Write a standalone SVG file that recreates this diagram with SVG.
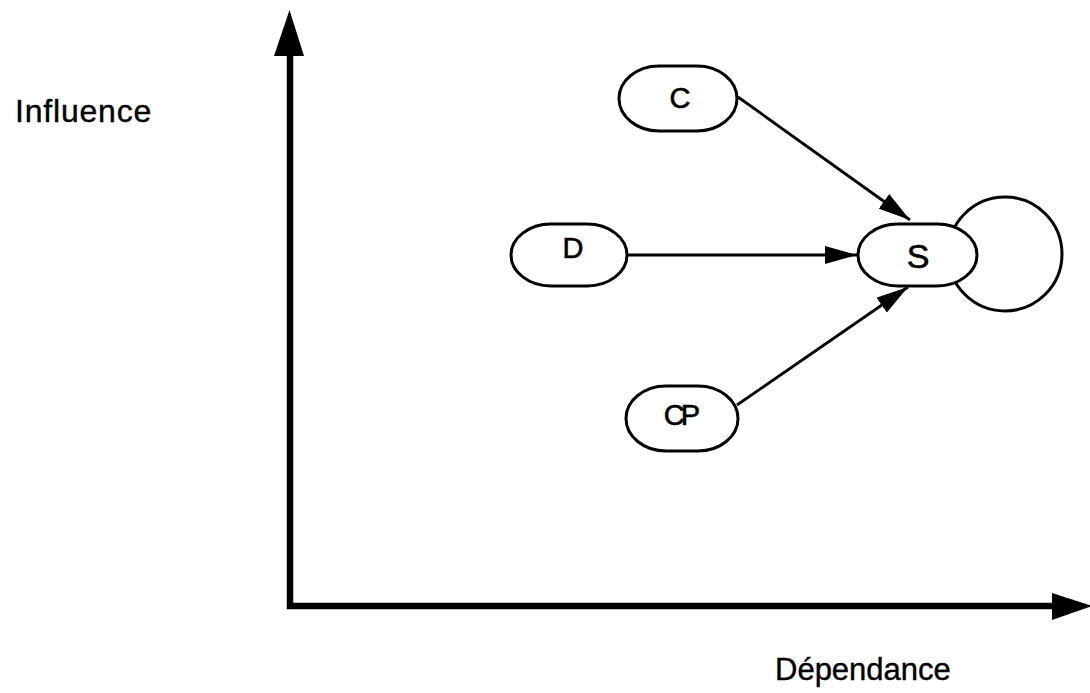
<svg xmlns="http://www.w3.org/2000/svg" width="1090" height="693" viewBox="0 0 1090 693">
<style>
.node{fill:#fff;stroke:#000;stroke-width:3}
.lbl{font-family:"Liberation Sans",Arial,sans-serif;font-size:29px;fill:#000;stroke:#000;stroke-width:0.6;text-anchor:middle}
.axlbl{font-family:"Liberation Sans",Arial,sans-serif;font-size:31px;fill:#000;stroke:#000;stroke-width:0.4}
.edge{fill:none;stroke:#000;stroke-width:2.8}
</style>
<defs>
<marker id="ah" viewBox="0 0 32 18" refX="32" refY="9" markerWidth="32" markerHeight="18" markerUnits="userSpaceOnUse" orient="auto">
<path d="M0,0 L32,9 L0,18 Z" fill="#000"/>
</marker>
</defs>
<g id="axes">
<path d="M290,52 V606 H1055" fill="none" stroke="#000" stroke-width="6.5" stroke-linejoin="miter"/>
<path d="M274,56 L289.5,10 L304,56 Z" fill="#000"/>
<path d="M1052,593 L1092,606 L1052,620 Z" fill="#000"/>
<text class="axlbl" x="15" y="122" style="font-size:32px;letter-spacing:0.8px">Influence</text>
<text class="axlbl" x="775" y="680">Dépendance</text>
</g>
<g id="connectors">
<line class="edge" x1="738" y1="97" x2="910" y2="220" marker-end="url(#ah)"/>
<line class="edge" x1="628" y1="255" x2="857" y2="255" marker-end="url(#ah)"/>
<line class="edge" x1="737" y1="405" x2="908" y2="287" marker-end="url(#ah)"/>
<circle cx="1005" cy="254" r="57" fill="none" stroke="#000" stroke-width="3"/>
</g>
<g id="node-C">
<rect class="node" x="619" y="66" width="118" height="65" rx="40" ry="32.5"/>
<text class="lbl" x="680" y="108">C</text>
</g>
<g id="node-D">
<rect class="node" x="511" y="224" width="116" height="62" rx="40" ry="31"/>
<text class="lbl" x="573" y="258">D</text>
</g>
<g id="node-S">
<rect class="node" x="858" y="224" width="119" height="62" rx="40" ry="31"/>
<text class="lbl" x="918" y="268" style="font-size:34px">S</text>
</g>
<g id="node-CP">
<rect class="node" x="626" y="386" width="112" height="65" rx="40" ry="32.5"/>
<text class="lbl" x="680" y="425" style="letter-spacing:-4px">CP</text>
</g>
</svg>
